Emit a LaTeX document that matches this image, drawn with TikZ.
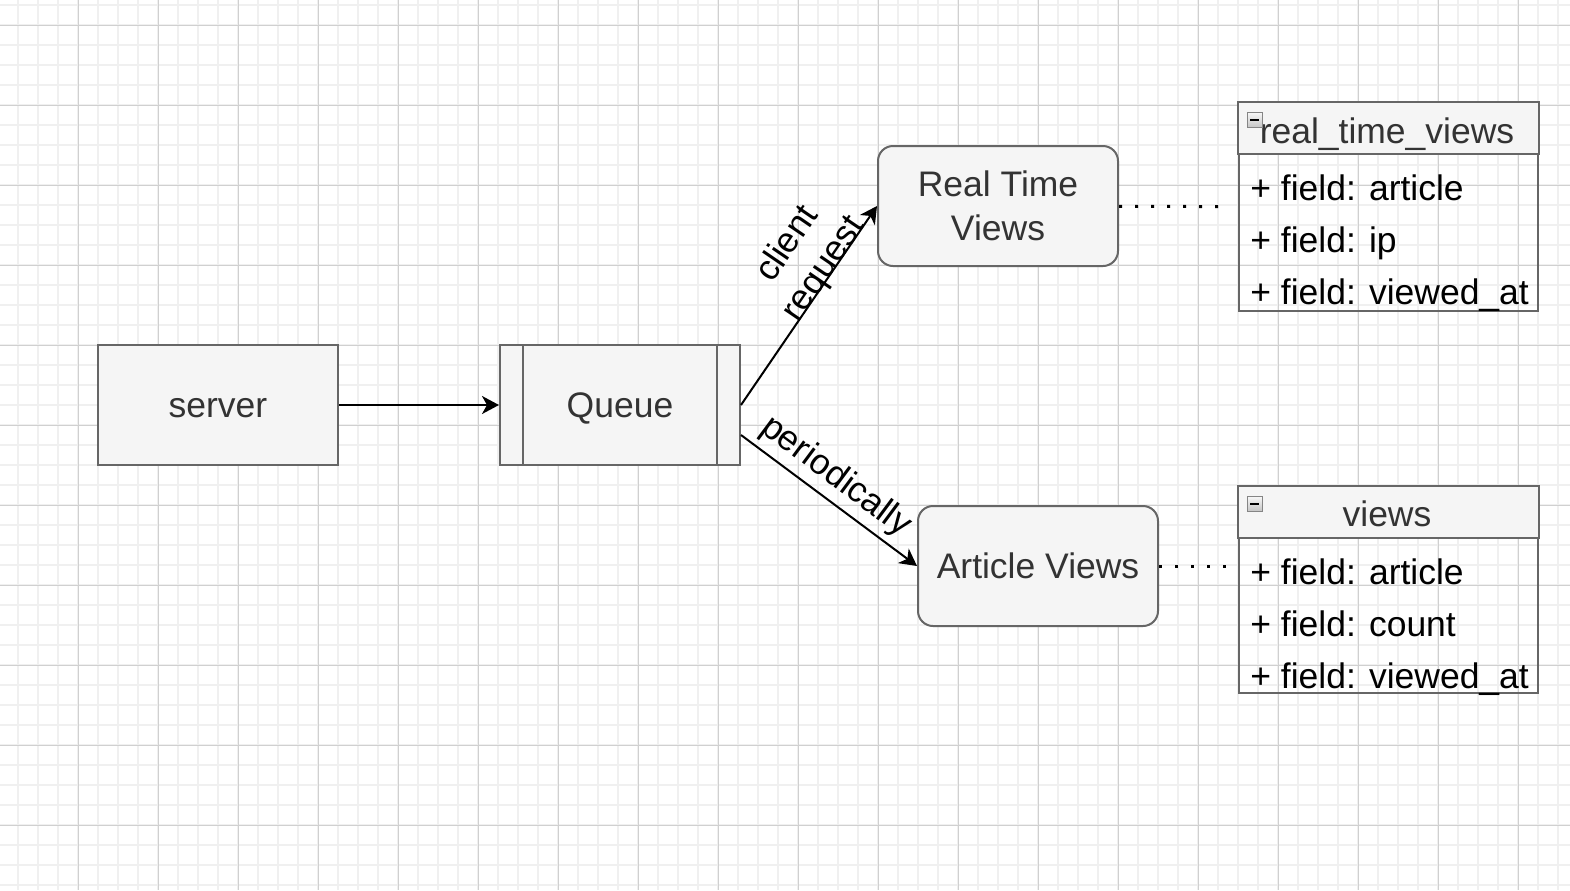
\documentclass[tikz,border=0pt]{standalone}
\usepackage{fontspec}
\setmainfont{Liberation Sans}
\usepackage{xcolor}
\usetikzlibrary{arrows.meta, positioning, calc}

\definecolor{boxfill}{HTML}{F5F5F5}
\definecolor{boxline}{HTML}{666666}
\definecolor{boxtext}{HTML}{333333}
\definecolor{gridmajor}{HTML}{D0D0D0}
\definecolor{gridminor}{HTML}{F0F0F0}
\newdimen\pxu
\pxu=0.02cm

\begin{document}
\begin{tikzpicture}[x=0.02cm, y=-0.02cm, node distance=160\pxu,
    font=\fontsize{20.2pt}{25pt}\selectfont,
    box/.style={rectangle, draw=boxline, fill=boxfill, line width=2\pxu, text=boxtext, minimum width=240\pxu, minimum height=120\pxu, align=center, inner sep=0pt},
    oneline/.style={text height=32\pxu, text depth=7\pxu},
    roundbox/.style={box, rounded corners=15\pxu},
    flow/.style={-{Stealth[length=0.34cm, width=0.36cm, inset=0.1cm]}, line width=2\pxu},
    dotline/.style={line width=3\pxu, dash pattern=on 3\pxu off 13\pxu},
    tablebox/.style={rectangle, draw=boxline, line width=2\pxu, minimum width=299\pxu, inner sep=0pt},
    tablehead/.style={text=boxtext, anchor=base, inner sep=0pt},
    fieldrow/.style={text=black, anchor=base west, inner sep=0pt},
    togglebox/.style={draw=boxline!80, top color=gray!5, bottom color=gray!45, line width=1\pxu}]
    \useasboundingbox (0,0) rectangle (1570,890);
    \fill[white] (0,0) rectangle (1570,890);

    % background grid
    \foreach \gx in {18,38,...,1558} \draw[gridminor, line width=1.5\pxu] (\gx,0) -- (\gx,890);
    \foreach \gy in {5,25,...,885} \draw[gridminor, line width=1.5\pxu] (0,\gy) -- (1570,\gy);
    \foreach \gx in {78,158,...,1518} \draw[gridmajor, line width=1\pxu] (\gx,0) -- (\gx,890);
    \foreach \gy in {25,105,...,825} \draw[gridmajor, line width=1\pxu] (0,\gy) -- (1570,\gy);

    \node (server) [box, oneline] at (218,405) {server};
    \node (queue) [box, oneline, right=of server] {Queue};
    \draw [boxline, line width=2\pxu] ([xshift=24\pxu]queue.north west) -- ([xshift=24\pxu]queue.south west);
    \draw [boxline, line width=2\pxu] ([xshift=-24\pxu]queue.north east) -- ([xshift=-24\pxu]queue.south east);
    \node (rtviews) [roundbox] at (998,206) {Real Time\\Views};
    \node (artviews) [roundbox, oneline] at (1038,566) {Article Views};
    \coordinate (qlow) at ([yshift=-30\pxu]queue.east);

    \draw [flow] (server) -- (queue);
    \draw [flow] (queue.east) -- node[pos=0.66, sloped, yshift=30\pxu, align=center] (lblclient) {client\\request} (rtviews.west);
    \draw [flow] (qlow) -- node[pos=0.46, sloped, yshift=23\pxu] (lblperiod) {periodically} (artviews.west);

    % table real_time_views
    \node (rtvtable) [tablebox, minimum height=208\pxu, anchor=north west] at (1238,102) {};
    \draw [boxline, line width=2\pxu, fill=boxfill] (rtvtable.north west) rectangle ([yshift=-52\pxu]rtvtable.north east);
    \node (rtvname) [tablehead] at (1387,143) {real\_time\_views};
    \node (rtvarticle) [fieldrow] at (1250,200) {+ field: article};
    \node (rtvip) [fieldrow] at (1250,252) {+ field: ip};
    \node (rtvviewed) [fieldrow] at (1250,304) {+ field: viewed\_at};
    \draw [togglebox] (1247,112) rectangle (1262,127);
    \draw [line width=2\pxu] (1250,119.5) -- (1259,119.5);

    % table views
    \node (vtable) [tablebox, minimum height=206\pxu, anchor=north west] at (1238,486) {};
    \draw [boxline, line width=2\pxu, fill=boxfill] (vtable.north west) rectangle ([yshift=-52\pxu]vtable.north east);
    \node (vname) [tablehead] at (1387,526) {views};
    \node (varticle) [fieldrow] at (1250,584) {+ field: article};
    \node (vcount) [fieldrow] at (1250,636) {+ field: count};
    \node (vviewed) [fieldrow] at (1250,688) {+ field: viewed\_at};
    \draw [togglebox] (1247,496) rectangle (1262,511);
    \draw [line width=2\pxu] (1250,503.5) -- (1259,503.5);

    \draw [dotline, shorten >=20\pxu] (rtviews) -- (rtvtable);
    \draw [dotline, shorten >=10\pxu] (artviews.east) -- (artviews.east -| vtable.west);
\end{tikzpicture}
\end{document}
